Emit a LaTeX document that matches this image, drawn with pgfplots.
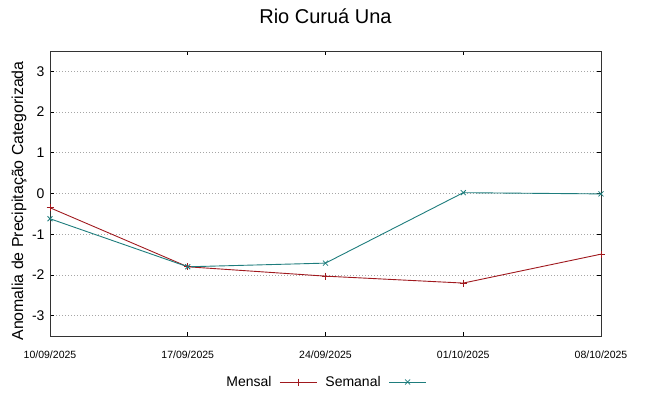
\documentclass[border=0pt]{standalone}
\usepackage{pgfplots}
\pgfplotsset{compat=1.18}
\usepackage{fontspec}
\setmainfont{Liberation Sans}
\definecolor{mensal}{RGB}{160,25,30}
\definecolor{semanal}{RGB}{30,125,125}
\begin{document}
\begin{tikzpicture}
\path[use as bounding box] (0,0) rectangle (648bp,396bp);
\begin{axis}[
  at={(50bp,60bp)}, anchor=south west,
  scale only axis, width=551bp, height=285bp,
  xmin=0, xmax=4, ymin=-3.5, ymax=3.5,
  xtick={0,1,2,3,4},
  xticklabels={10/09/2025,17/09/2025,24/09/2025,01/10/2025,08/10/2025},
  ytick={-3,-2,-1,0,1,2,3},
  tick align=inside,
  major tick length=4bp,
  tick style={black, line width=0.8bp},
  axis line style={black!80, line width=1bp},
  ymajorgrids,
  major grid style={gray!70, line width=0.7bp, dash pattern=on 1bp off 2bp},
  /pgf/number format/assume math mode=true,
  yticklabel style={font=\fontsize{14bp}{16bp}\selectfont, xshift=-2bp},
  xticklabel style={font=\fontsize{10.5bp}{12bp}\selectfont, yshift=-11bp},
  ylabel={Anomalia de Precipitação Categorizada},
  every axis y label/.style={at={(axis description cs:-0.056,0.474)}, rotate=90, anchor=center, font=\fontsize{15.9bp}{18bp}\selectfont},
  title={Rio Curuá Una},
  title style={at={(axis description cs:0.5,1)}, anchor=center, yshift=29bp, font=\fontsize{20bp}{24bp}\selectfont},
  clip=false,
  legend columns=2,
  legend plot pos=right,
  legend style={at={(axis description cs:0.5,-0.1614)}, anchor=center, draw=none, fill=none,
    font=\fontsize{14bp}{16bp}\selectfont,
    /tikz/every even column/.append style={column sep=6bp}},
  legend image code/.code={\path (0bp,0bp); \draw[#1,mark=none] (6bp,0bp) -- (43bp,0bp); \path[#1,draw=none] plot coordinates {(24.5bp,0bp)};},
]
\addplot[mensal, line width=0.9bp, mark=+, mark size=3.5bp, mark options={line width=0.8bp}] coordinates {
(0,-0.35) (1,-1.80) (2,-2.03) (3,-2.20) (4,-1.49)};
\addlegendentry{Mensal}
\addplot[semanal, line width=0.9bp, mark=x, mark size=3.5bp, mark options={line width=0.8bp}] coordinates {
(0,-0.62) (1,-1.80) (2,-1.71) (3,0.02) (4,-0.01)};
\addlegendentry{Semanal}
\end{axis}
\end{tikzpicture}
\end{document}
